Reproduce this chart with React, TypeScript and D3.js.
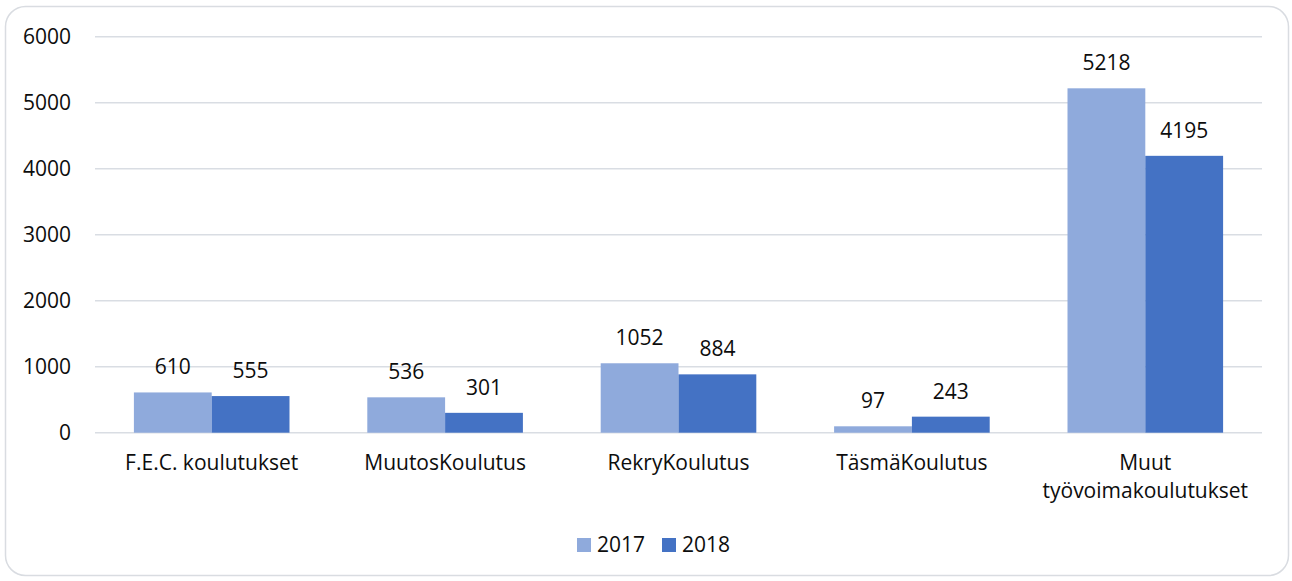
import React from 'react';
import * as d3 from 'd3';

const categories = ['F.E.C. koulutukset', 'MuutosKoulutus', 'RekryKoulutus', 'TäsmäKoulutus', 'Muut\ntyövoimakoulutukset'];
const series = ['2017', '2018'];
const values2017 = [610, 536, 1052, 97, 5218];
const values2018 = [555, 301, 884, 243, 4195];
const yTicks = [0, 1000, 2000, 3000, 4000, 5000, 6000];

const colors = ['#8FAADC', '#4472C4'];
const FONT = '"Open Sans", sans-serif';
const TEXT = '#0d0d0d';

function App() {
  const width = 1292;
  const height = 581;
  const left = 95;
  const right = 1262;
  const top = 36.7;
  const bottom = 432.7;

  const x = d3.scaleBand().domain(categories).range([left, right]).paddingInner(0).paddingOuter(0);
  const inner = d3.scaleBand().domain(series).range([0, x.bandwidth()]).paddingInner(0).paddingOuter(0.5);
  const y = d3.scaleLinear().domain([0, 6000]).range([bottom, top]);

  const data = [values2017, values2018];

  return (
    <svg width={width} height={height} style={{ position: 'absolute', left: 0, top: 0 }}>
      <rect x={5.5} y={6.5} width={1283} height={569} rx={20} fill="#fff" stroke="#d9dce1" strokeWidth={1.5} />
      {yTicks.map(t => (
        <g key={t}>
          <line x1={left} x2={right} y1={y(t)} y2={y(t)} stroke="#d9dde3" strokeWidth={1.5} />
          <text x={71} y={y(t)} dy="0.35em" textAnchor="end" fontFamily={FONT} fontSize={21} fill={TEXT}>{t}</text>
        </g>
      ))}
      {categories.map((c, i) => (
        <g key={c} transform={`translate(${x(c)},0)`}>
          {series.map((s, j) => {
            const v = data[j][i];
            const bx = inner(s)!;
            return (
              <g key={s}>
                <rect x={bx} y={y(v)} width={inner.bandwidth()} height={y(0) - y(v)} fill={colors[j]} />
                <text x={bx + inner.bandwidth() / 2} y={y(v) - 18} textAnchor="middle" fontFamily={FONT} fontSize={21} fill={TEXT}>{v}</text>
              </g>
            );
          })}
          {c.split('\n').map((line, k) => (
            <text key={k} x={x.bandwidth() / 2} y={470 + k * 28} textAnchor="middle" fontFamily={FONT} fontSize={21} fill={TEXT}>{line}</text>
          ))}
        </g>
      ))}
      {series.map((s, j) => (
        <g key={s} transform={`translate(${577 + j * 85},0)`}>
          <rect x={0} y={538} width={14} height={14} fill={colors[j]} />
          <text x={20} y={552} fontFamily={FONT} fontSize={21} fill={TEXT}>{s}</text>
        </g>
      ))}
    </svg>
  );
}

export default App;
